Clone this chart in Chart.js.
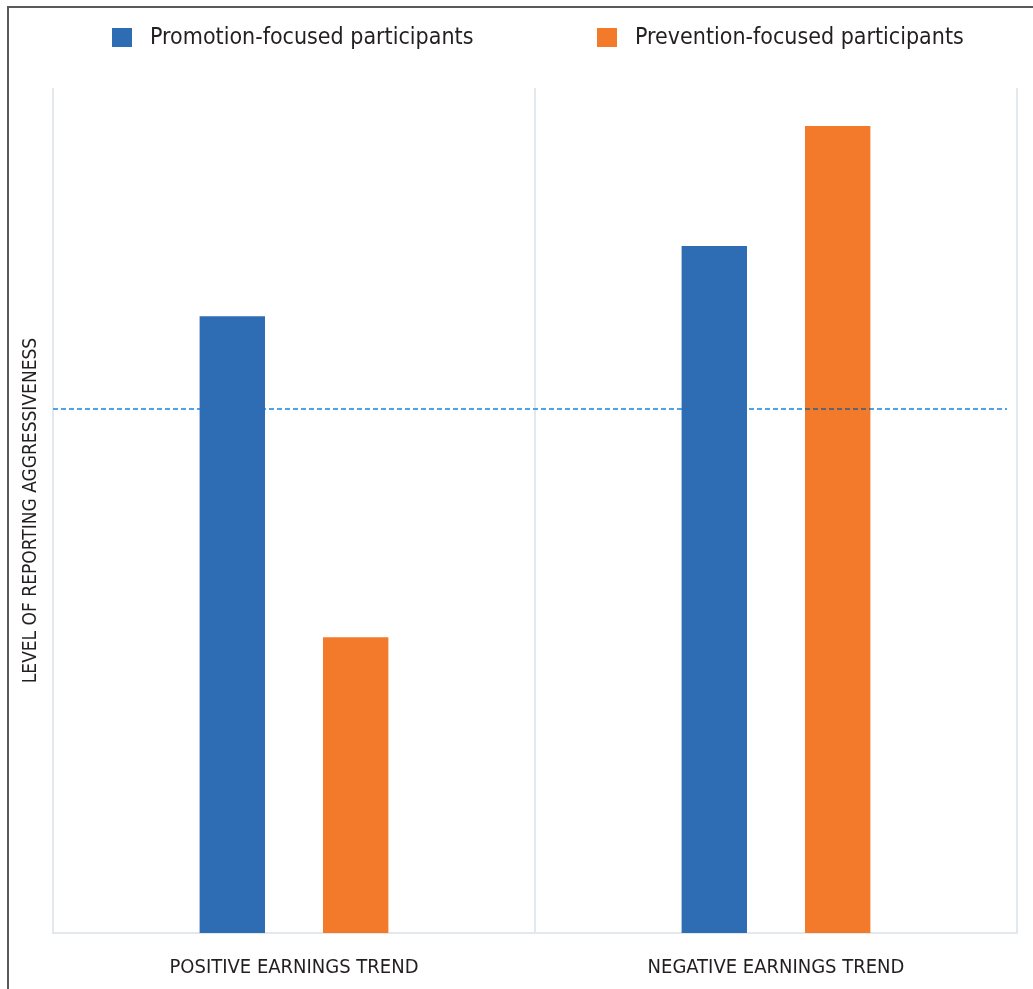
<!DOCTYPE html>
<html>
<head>
<meta charset="utf-8">
<title>Reporting aggressiveness</title>
<script src="https://cdn.jsdelivr.net/npm/chart.js@4"></script>
<style>
  html, body { margin: 0; padding: 0; background: #fff; overflow: hidden; }
  #wrap { position: relative; width: 1033px; height: 989px; }
  #frame { position: absolute; left: 7px; top: 6px; width: 1100px; height: 1100px;
           border-left: 2px solid #5a5a5a; border-top: 2px solid #5a5a5a; }
  canvas { position: absolute; left: 0; top: 0; }
</style>
</head>
<body>
<div id="wrap">
  <div id="frame"></div>
  <canvas id="chart" width="1033" height="989"></canvas>
</div>
<script>
const categories = ['POSITIVE EARNINGS TREND', 'NEGATIVE EARNINGS TREND'];
const seriesNames = ['Promotion-focused participants', 'Prevention-focused participants'];
const promotionValues = [73, 81.3];
const preventionValues = [35, 95.5];
const baselineValue = 62;

(function() {
    "use strict";
    const colors = ['#2e6db4', '#f37a2b'];
    const font = '"Liberation Sans Narrow", "DejaVu Sans Condensed", "Arial Narrow", sans-serif';
    const textColor = '#231f20';

    // legend drawn by hand: the reference spaces its two items far apart
    const topLegend = {
        id: 'topLegend',
        afterDraw(chart) {
            const ctx = chart.ctx;
            const area = chart.chartArea;
            ctx.save();
            ctx.font = '23px ' + font;
            ctx.textBaseline = 'middle';
            chart.data.datasets.forEach((ds, i) => {
                const x = area.left + 59 + i * (area.width / 2 + 3);
                ctx.fillStyle = ds.backgroundColor;
                ctx.fillRect(x, 28, 20, 19);
                ctx.fillStyle = textColor;
                ctx.fillText(ds.label, x + 38, 38);
            });
            ctx.restore();
        }
    };

    // dashed reference level across the plot
    const baseline = {
        id: 'baseline',
        beforeDatasetsDraw(chart) {
            const ctx = chart.ctx;
            const area = chart.chartArea;
            const y = Math.round(chart.scales.y.getPixelForValue(baselineValue));
            ctx.save();
            ctx.strokeStyle = '#4fa3ea';
            ctx.lineWidth = 2;
            ctx.setLineDash([5, 3]);
            ctx.beginPath();
            ctx.moveTo(area.left, y);
            ctx.lineTo(area.right - 10, y);
            ctx.stroke();
            ctx.restore();
        },
        afterDatasetsDraw(chart) {
            // the line shows through the orange bars as dark dashes
            const ctx = chart.ctx;
            const y = Math.round(chart.scales.y.getPixelForValue(baselineValue));
            chart.getDatasetMeta(1).data.forEach(bar => {
                const left = bar.x - bar.width / 2;
                if (bar.y > y) return;
                ctx.save();
                ctx.beginPath();
                ctx.rect(left, y - 3, bar.width, 6);
                ctx.clip();
                ctx.strokeStyle = '#5d666e';
                ctx.lineWidth = 2;
                ctx.setLineDash([5, 3]);
                ctx.beginPath();
                ctx.moveTo(chart.chartArea.left, y);
                ctx.lineTo(chart.chartArea.right - 10, y);
                ctx.stroke();
                ctx.restore();
            });
        }
    };

    document.addEventListener("DOMContentLoaded", () => {
        const c1 = document.getElementById('chart');
        new Chart(c1, {
            type: 'bar',
            data: {
                labels: categories,
                datasets: [{
                    label: seriesNames[0],
                    data: promotionValues,
                    backgroundColor: colors[0],
                    borderWidth: 0
                }, {
                    label: seriesNames[1],
                    data: preventionValues,
                    backgroundColor: colors[1],
                    borderWidth: 0
                }]
            },
            options: {
                responsive: false,
                animation: false,
                categoryPercentage: 0.512,
                barPercentage: 0.53,
                layout: { padding: { top: 88, right: 16, left: 17, bottom: 0 } },
                plugins: {
                    legend: { display: false },
                    tooltip: { enabled: false }
                },
                scales: {
                    x: {
                        afterFit: scale => { scale.height = 56; },
                        grid: { color: '#e3e8ec', lineWidth: 2, drawTicks: false, offset: true },
                        border: { color: '#e3e8ec', width: 2 },
                        ticks: {
                            color: textColor,
                            padding: 23,
                            font: { family: font, size: 20 }
                        }
                    },
                    y: {
                        min: 0,
                        max: 100,
                        afterFit: scale => { scale.width = 36; },
                        grid: { display: false },
                        border: { display: false },
                        ticks: { display: false },
                        title: {
                            display: true,
                            text: 'LEVEL OF REPORTING AGGRESSIVENESS',
                            color: textColor,
                            font: { family: font, size: 19 },
                            padding: { top: 3, bottom: 4 }
                        }
                    }
                }
            },
            plugins: [topLegend, baseline]
        });
    });
})();
</script>
</body>
</html>
